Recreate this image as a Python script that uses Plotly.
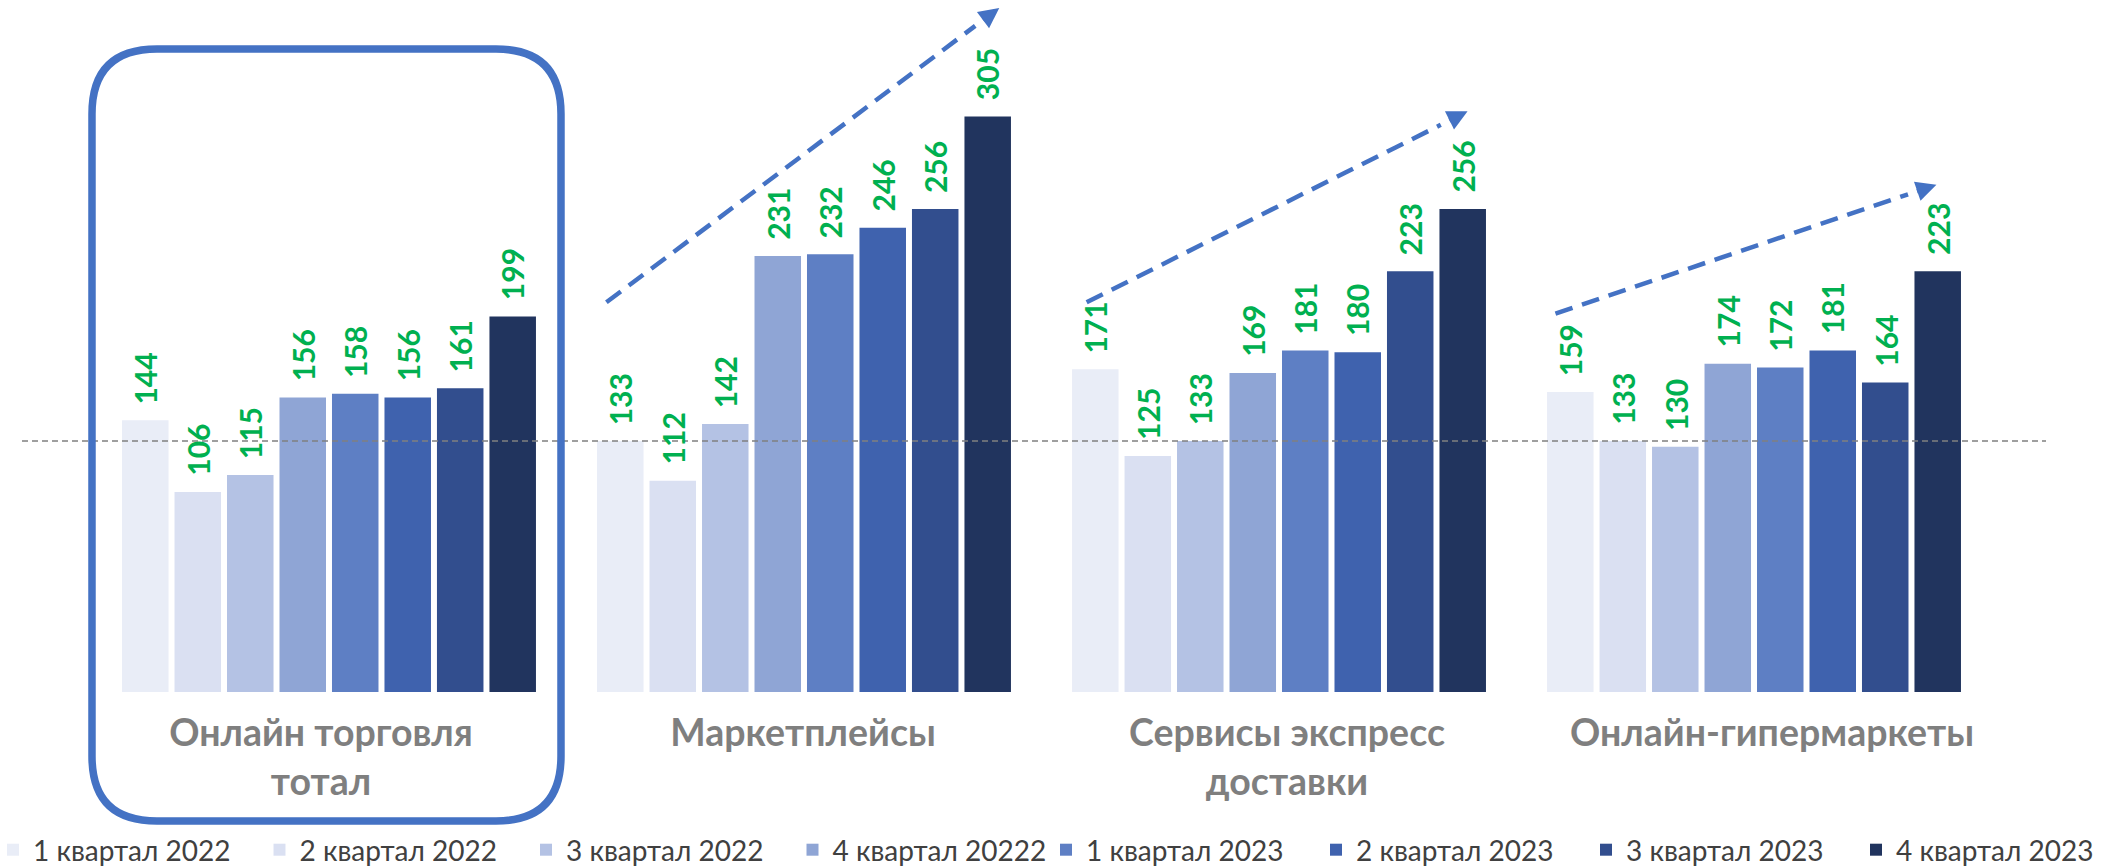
import plotly.graph_objects as go

# ---------------- data ----------------
categories = ["Онлайн торговля<br>тотал", "Маркетплейсы",
              "Сервисы экспресс<br>доставки", "Онлайн-гипермаркеты"]
series_names = ["1 квартал 2022", "2 квартал 2022", "3 квартал 2022", "4 квартал 20222",
                "1 квартал 2023", "2 квартал 2023", "3 квартал 2023", "4 квартал 2023"]
q1_2022 = [144, 133, 171, 159]
q2_2022 = [106, 112, 125, 133]
q3_2022 = [115, 142, 133, 130]
q4_2022 = [156, 231, 169, 174]
q1_2023 = [158, 232, 181, 172]
q2_2023 = [156, 246, 180, 181]
q3_2023 = [161, 256, 223, 164]
q4_2023 = [199, 305, 256, 223]
reference_level = 133

series_values = [q1_2022, q2_2022, q3_2022, q4_2022, q1_2023, q2_2023, q3_2023, q4_2023]

# ---------------- styles ----------------
colors = ["#E9EDF7", "#DAE0F2", "#B4C2E4", "#8FA5D5",
          "#5E7FC4", "#3F62AE", "#324E8E", "#21345E"]
label_green = "#00B050"
accent_blue = "#4472C4"

W, H = 2113, 866
M_L, M_R, M_T, M_B = 22, 67, 0, 174
X_RANGE = [-0.6463, 3.6147]
Y_RANGE = [0, 366.7]
BARGAP = 0.116
BARGROUPGAP = 0.114
PLOT_W = W - M_L - M_R
PLOT_H = H - M_T - M_B
PX_PER_X = PLOT_W / (X_RANGE[1] - X_RANGE[0])
PX_PER_Y = PLOT_H / (Y_RANGE[1] - Y_RANGE[0])
# small horizontal nudges (px) of the category labels, as in the original layout
LABEL_NUDGE_PX = [-8, -1, 8, 18]

fig = go.Figure()
n_series = len(series_values)
for j, (name, vals) in enumerate(zip(series_names, series_values)):
    fig.add_trace(go.Bar(
        x=list(range(len(categories))), y=vals, name=name,
        marker=dict(color=colors[j], line=dict(width=0)),
        legend="legend" if j < 4 else "legend2",
        hoverinfo="skip",
    ))

# value labels above the bars (rotated)
annotations = []
slot = (1 - BARGAP) / n_series
for j, vals in enumerate(series_values):
    for i, v in enumerate(vals):
        xc = i - (1 - BARGAP) / 2 + (j + 0.5) * slot
        annotations.append(dict(
            x=xc, y=v, xref="x", yref="y", text=str(v), showarrow=False,
            textangle=-90, xanchor="center", yanchor="bottom", yshift=14,
            font=dict(family="Lato", size=30, color=label_green, weight="bold"),
        ))

# trend arrows (dashed) for groups 2..4
trend_arrows = [
    dict(x0=0.584, y0=206.5, x1=1.411, y1=362.5),
    dict(x0=1.595, y0=206.5, x1=2.397, y1=307.7),
    dict(x0=2.582, y0=200.5, x1=3.384, y1=268.8),
]
shapes = []
# horizontal reference line
shapes.append(dict(type="line", xref="paper", yref="y", x0=0, x1=1,
                   y0=reference_level, y1=reference_level, layer="above",
                   line=dict(color="#808080", width=1.5, dash="6px,4px")))
for a in trend_arrows:
    dxp = (a["x1"] - a["x0"]) * PX_PER_X
    dyp = (a["y1"] - a["y0"]) * PX_PER_Y
    length = (dxp ** 2 + dyp ** 2) ** 0.5
    f = 1 - 22 / length
    tx = a["x0"] + (a["x1"] - a["x0"]) * f
    ty = a["y0"] + (a["y1"] - a["y0"]) * f
    f2 = 1 - 30 / length
    sx = a["x0"] + (a["x1"] - a["x0"]) * f2
    sy = a["y0"] + (a["y1"] - a["y0"]) * f2
    shapes.append(dict(type="line", xref="x", yref="y", x0=a["x0"], y0=a["y0"],
                       x1=sx, y1=sy, layer="above",
                       line=dict(color=accent_blue, width=4.5, dash="18px,10px")))
    annotations.append(dict(x=a["x1"], y=a["y1"], ax=tx, ay=ty, xref="x", yref="y",
                            axref="x", ayref="y", text="", showarrow=True,
                            arrowhead=2, arrowsize=0.9, arrowwidth=4.5,
                            arrowcolor=accent_blue, standoff=0))

# rounded highlight box around first group (pixel rect -> paper coords)
def px2paper(px, py):
    return (px - M_L) / PLOT_W, (H - M_B - py) / PLOT_H

def P(px, py):
    x, y = px2paper(px, py)
    return f"{x:.5f},{y:.5f}"

bx0, bx1, by0, by1, r = 92, 561, 49, 821, 65
path = (f"M{P(bx0 + r, by0)} L{P(bx1 - r, by0)} Q{P(bx1, by0)} {P(bx1, by0 + r)} "
        f"L{P(bx1, by1 - r)} Q{P(bx1, by1)} {P(bx1 - r, by1)} "
        f"L{P(bx0 + r, by1)} Q{P(bx0, by1)} {P(bx0, by1 - r)} "
        f"L{P(bx0, by0 + r)} Q{P(bx0, by0)} {P(bx0 + r, by0)} Z")
shapes.append(dict(type="path", xref="paper", yref="paper", path=path, layer="above",
                   line=dict(color=accent_blue, width=7.5)))

legend_font = dict(family="Lato", size=28, color="#404040")
LEG_Y = (PLOT_H - (850 - M_T)) / PLOT_H

tick_positions = [i + LABEL_NUDGE_PX[i] / PX_PER_X for i in range(len(categories))]

fig.update_layout(
    width=W, height=H,
    margin=dict(l=M_L, r=M_R, t=M_T, b=M_B, autoexpand=False),
    paper_bgcolor="white", plot_bgcolor="white",
    barmode="group", bargap=BARGAP, bargroupgap=BARGROUPGAP,
    xaxis=dict(range=X_RANGE, tickmode="array", tickvals=tick_positions,
               ticktext=categories, showgrid=False, zeroline=False, showline=False,
               ticks="outside", ticklen=8, tickcolor="rgba(0,0,0,0)",
               tickfont=dict(family="Lato", size=37.5, color="#7F7F7F", weight="bold")),
    yaxis=dict(range=Y_RANGE, visible=False, showgrid=False, zeroline=False),
    showlegend=True,
    legend=dict(orientation="h", x=(-7 - M_L) / PLOT_W, xanchor="left",
                y=LEG_Y, yanchor="middle", font=legend_font,
                entrywidth=221.5, entrywidthmode="pixels", bgcolor="rgba(0,0,0,0)"),
    legend2=dict(orientation="h", x=(1046 - M_L) / PLOT_W, xanchor="left",
                 y=LEG_Y, yanchor="middle", font=legend_font,
                 entrywidth=225, entrywidthmode="pixels", bgcolor="rgba(0,0,0,0)"),
    annotations=annotations, shapes=shapes,
)

fig.write_html("out.html")
